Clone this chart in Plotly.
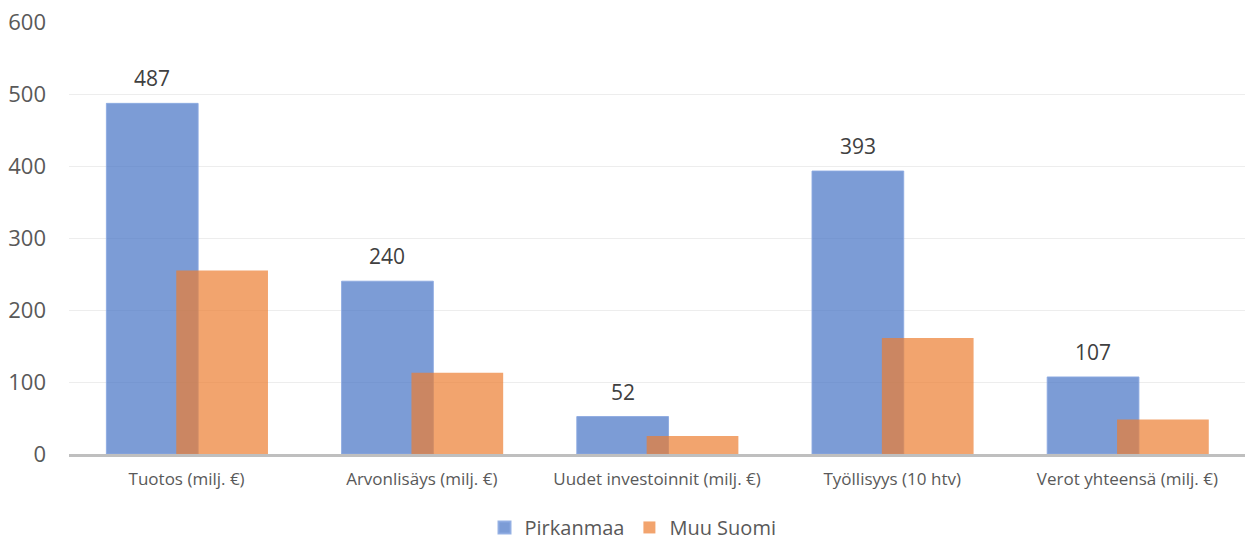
import plotly.graph_objects as go

categories = [
    "Tuotos (milj. €)",
    "Arvonlisäys (milj. €)",
    "Uudet investoinnit (milj. €)",
    "Työllisyys (10 htv)",
    "Verot yhteensä (milj. €)",
]
pirkanmaa = [487, 240, 52, 393, 107]
muu_suomi = [255, 113, 25, 161, 48]

FONT = "Open Sans"
BAR_W = 0.39
BLUE_OFFSET = -0.341
ORANGE_OFFSET = -0.044

fig = go.Figure()
fig.add_trace(go.Bar(
    name="Pirkanmaa",
    x=categories,
    y=pirkanmaa,
    width=BAR_W,
    offset=BLUE_OFFSET,
    marker=dict(color="rgba(68,114,196,0.7)", line=dict(width=1, color="rgba(140,170,225,0.9)")),
))
fig.add_trace(go.Bar(
    name="Muu Suomi",
    x=categories,
    y=muu_suomi,
    width=BAR_W,
    offset=ORANGE_OFFSET,
    marker=dict(color="rgba(237,125,49,0.7)", line=dict(width=0)),
))

# value labels above the Pirkanmaa bars
for i, v in enumerate(pirkanmaa):
    fig.add_annotation(
        x=i + BLUE_OFFSET + BAR_W / 2,
        y=v,
        xref="x",
        yref="y",
        text=str(v),
        showarrow=False,
        yanchor="middle",
        yshift=25,
        font=dict(family=FONT, size=21, color="#404040"),
    )

fig.update_layout(
    width=1245,
    height=540,
    barmode="overlay",
    plot_bgcolor="white",
    paper_bgcolor="white",
    margin=dict(l=69, r=0, t=22, b=86, autoexpand=False),
    font=dict(family=FONT, color="#595959"),
    showlegend=True,
    legend=dict(
        orientation="h",
        x=0.4796,
        xanchor="center",
        y=-0.17,
        yanchor="middle",
        font=dict(family=FONT, size=20, color="#595959"),
        itemsizing="constant",
        traceorder="normal",
    ),
    xaxis=dict(
        type="category",
        automargin=False,
        showgrid=False,
        showline=True,
        linecolor="#BFBFBF",
        linewidth=3,
        ticks="",
        tickfont=dict(family=FONT, size=17, color="#595959"),
        ticklabelstandoff=8,
        range=[-0.5, 4.5],
    ),
    yaxis=dict(
        automargin=False,
        range=[0, 600],
        dtick=100,
        showgrid=True,
        gridcolor="#EDEDED",
        gridwidth=1,
        zeroline=False,
        showline=False,
        ticks="",
        tickfont=dict(family=FONT, size=22, color="#595959"),
        ticklabelstandoff=22,
    ),
)

fig.write_html("out.html")
